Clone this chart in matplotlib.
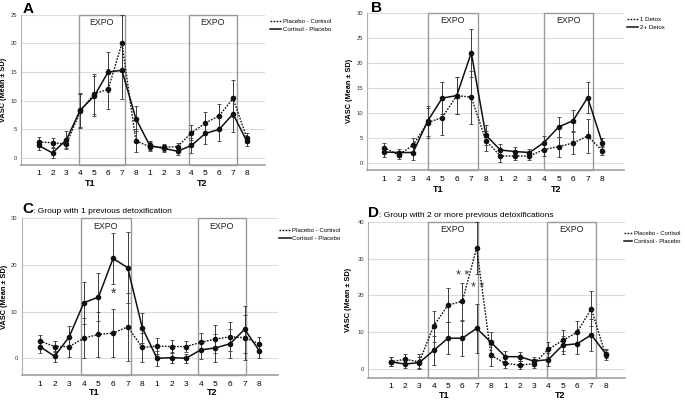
import matplotlib
matplotlib.use("Agg")
import matplotlib.pyplot as plt
import matplotlib.transforms as mtransforms
from matplotlib.lines import Line2D

plt.rcParams['font.family'] = ['Liberation Sans', 'DejaVu Sans']

# ---------------- data ----------------
tick_labels = ['1', '2', '3', '4', '5', '6', '7', '8', '1', '2', '3', '4', '5', '6', '7', '8']
positions = list(range(1, 17))

a_dot = [2.8, 2.7, 2.4, 8.2, 11.2, 12.0, 20.0, 3.0, 2.0, 1.9, 2.0, 4.4, 6.1, 7.4, 10.4, 3.5]
a_dot_sd = [0.8, 0.8, 0.8, 3.0, 3.5, 3.5, 5.0, 2.0, 0.8, 0.6, 0.7, 1.3, 1.9, 2.1, 3.3, 0.8]
a_sol = [2.2, 0.9, 3.2, 8.4, 10.8, 15.0, 15.3, 6.9, 2.2, 1.7, 1.2, 2.2, 4.3, 5.0, 7.7, 2.9]
a_sol_sd = [0.8, 0.8, 1.5, 3.0, 3.5, 3.5, 5.0, 2.1, 0.8, 0.6, 0.7, 1.3, 1.9, 2.1, 3.2, 0.8]

b_dot = [3.0, 1.5, 3.5, 8.0, 9.0, 13.4, 13.1, 4.4, 1.3, 1.3, 1.3, 2.6, 3.2, 3.9, 5.3, 2.4]
b_dot_sd = [1.0, 0.8, 1.5, 3.0, 3.5, 3.7, 5.3, 2.0, 1.2, 0.8, 0.8, 1.3, 2.0, 2.2, 3.4, 0.9]
b_sol = [2.1, 2.0, 2.0, 8.3, 12.9, 13.4, 22.0, 5.5, 2.5, 2.2, 2.0, 4.0, 7.1, 8.4, 13.0, 4.0]
b_sol_sd = [0.9, 0.8, 1.4, 3.0, 3.2, 3.7, 4.8, 2.0, 1.2, 0.9, 0.7, 1.3, 2.0, 2.1, 3.1, 0.9]

c_dot = [3.7, 2.5, 2.5, 4.3, 5.1, 5.4, 6.7, 2.3, 2.6, 2.5, 2.5, 3.4, 4.1, 4.6, 4.4, 3.1]
c_dot_sd = [1.2, 1.1, 2.2, 4.3, 4.9, 5.2, 7.2, 3.1, 1.7, 1.3, 1.1, 1.9, 3.0, 3.1, 4.8, 1.5]
c_sol = [2.5, 0.4, 4.6, 11.9, 13.1, 21.4, 19.4, 6.5, 0.0, 0.1, 0.0, 1.8, 2.2, 3.1, 6.2, 1.6]
c_sol_sd = [1.3, 1.2, 2.3, 4.5, 5.1, 5.4, 7.6, 3.2, 1.6, 1.2, 1.0, 1.9, 3.0, 3.1, 5.0, 1.5]

d_dot = [2.0, 2.7, 2.0, 11.7, 17.4, 18.4, 32.9, 3.8, 1.6, 1.1, 1.5, 5.4, 7.8, 10.0, 16.4, 3.8]
d_dot_sd = [1.2, 1.3, 2.0, 4.2, 4.7, 5.0, 7.0, 2.9, 1.4, 1.0, 1.2, 2.0, 2.8, 3.0, 4.7, 1.4]
d_sol = [2.0, 1.4, 1.8, 5.1, 8.4, 8.4, 11.1, 7.3, 3.4, 3.4, 2.2, 2.6, 6.5, 6.9, 9.3, 4.2]
d_sol_sd = [1.2, 1.0, 1.6, 4.0, 4.4, 4.8, 6.7, 2.8, 1.5, 1.2, 1.0, 1.7, 2.5, 2.8, 4.3, 1.2]

legend_ac = ['Placebo - Cortisol', 'Cortisol - Placebo']
legend_b = ['1 Detox', '2+ Detox']

W, H = 685, 400
fig = plt.figure(figsize=(W / 100, H / 100), dpi=100)


def px_axes(l, r, t, b):
    return fig.add_axes([l / W, 1 - b / H, (r - l) / W, (b - t) / H])


def panel(ax, dot, dot_sd, sol, sol_sd, ylim, yticks, xlim, boxes, labels,
          ylab_x, leg_anchor, tick_pad, t_off, hlen=1.9, lfs=4.4):
    ax.set_xlim(*xlim)
    ax.set_ylim(*ylim)
    ax.set_yticks(yticks)
    ax.set_yticklabels([str(v) for v in yticks], fontsize=4.2, color='#333333')
    ax.set_xticks(positions)
    ax.set_xticklabels(tick_labels, fontsize=6)
    ax.tick_params(axis='both', length=0)
    ax.tick_params(axis='x', pad=tick_pad)
    ax.tick_params(axis='y', pad=3)
    for s in ['top', 'right']:
        ax.spines[s].set_visible(False)
    ax.spines['left'].set_color('#b0b0b0')
    ax.spines['left'].set_linewidth(0.8)
    ax.spines['bottom'].set_color('#a0a0a0')
    ax.spines['bottom'].set_linewidth(1.2)
    ax.grid(axis='y', color='#dcdcdc', linewidth=0.8)
    ax.set_axisbelow(True)
    trans = mtransforms.blended_transform_factory(ax.transData, ax.transAxes)
    for (x0, x1) in boxes:
        ax.add_patch(plt.Rectangle((x0, 0), x1 - x0, 1, transform=trans,
                                   fill=False, edgecolor='#9a9a9a', linewidth=1.0,
                                   clip_on=False, zorder=1))
        ax.text((x0 + x1) / 2, 0.95, 'EXPO', transform=trans, ha='center',
                va='center', fontsize=6.4, color='#222222')
    ax.errorbar(positions, dot, yerr=dot_sd, fmt='none', ecolor='#3a3a3a',
                elinewidth=0.7, capsize=1.6, capthick=0.6, zorder=3)
    ax.errorbar(positions, sol, yerr=sol_sd, fmt='none', ecolor='#3a3a3a',
                elinewidth=0.7, capsize=1.6, capthick=0.6, zorder=3)
    ax.plot(positions, dot, linestyle=(0, (1.2, 1.0)), color='#111111', linewidth=1.0,
            marker='o', markersize=3, zorder=4)
    ax.plot(positions, sol, linestyle='-', color='#111111', linewidth=1.1,
            marker='o', markersize=3, zorder=4)
    ax.set_ylabel('VASC (Mean ± SD)', fontsize=5.3, fontweight='bold')
    ax.yaxis.set_label_coords(ylab_x, 0.5)
    for lab, xp in [('T1', 4.7), ('T2', 12.8)]:
        ax.annotate(lab, xy=(xp, 0), xycoords=trans, xytext=(0, -t_off),
                    textcoords='offset points', ha='center', va='center',
                    fontsize=6.5, fontweight='bold', annotation_clip=False)
    handles = [Line2D([], [], linestyle=(0, (1.2, 1.0)), color='#111111', linewidth=1.0),
               Line2D([], [], linestyle='-', color='#111111', linewidth=1.1)]
    ax.legend(handles, labels, loc='upper left', bbox_to_anchor=leg_anchor,
              frameon=False, fontsize=lfs, handlelength=hlen, handletextpad=0.3,
              labelspacing=0.45, borderaxespad=0, borderpad=0)


axA = px_axes(21, 265, 14.7, 165)
panel(axA, a_dot, a_dot_sd, a_sol, a_sol_sd, (-1.2, 25), [0, 5, 10, 15, 20, 25],
      (-0.27, 17.3), [(3.9, 7.2), (11.85, 15.25)], legend_ac, -0.058,
      (1.02, 0.975), 3.5, 13)

axB = px_axes(367, 624, 12.7, 170)
panel(axB, b_dot, b_dot_sd, b_sol, b_sol_sd, (-1.5, 30), [0, 5, 10, 15, 20, 25, 30],
      (-0.17, 17.5), [(4.0, 7.45), (12.0, 15.4)], legend_b, -0.055,
      (1.01, 0.975), 4.5, 14)

axC = px_axes(21.7, 277.7, 218.3, 375)
panel(axC, c_dot, c_dot_sd, c_sol, c_sol_sd, (-3.6, 30), [0, 10, 20, 30],
      (-0.25, 17.26), [(3.8, 7.2), (11.8, 15.1)], legend_ac, -0.055,
      (1.005, 0.94), 4, 12.5)
axC.text(6, 13.8, '*', ha='center', va='center', fontsize=10, color='#333333')

axD = px_axes(368.3, 625, 221.7, 377.7)
panel(axD, d_dot, d_dot_sd, d_sol, d_sol_sd, (-2.3, 40), [0, 10, 20, 30, 40],
      (-0.56, 17.35), [(3.62, 7.07), (11.9, 15.3)], legend_ac, -0.065,
      (0.998, 0.94), 4, 12.5, hlen=1.3, lfs=4.2)
axD.text(6, 25.3, '* *', ha='center', va='center', fontsize=9, color='#333333')
axD.text(7.1, 22.0, '* *', ha='center', va='center', fontsize=9, color='#333333')

# panel titles
fig.text(23 / W, 1 - 9 / H, 'A', fontsize=11, fontweight='bold', va='center', ha='left')
fig.text(371 / W, 1 - 8 / H, 'B', fontsize=11, fontweight='bold', va='center', ha='left')
tC = fig.text(22 / W, 1 - 213 / H, 'C', fontsize=11, fontweight='bold', va='baseline', ha='left')
tD = fig.text(368 / W, 1 - 217 / H, 'D', fontsize=11, fontweight='bold', va='baseline', ha='left')
fig.canvas.draw()
r = fig.canvas.get_renderer()
for t, s in [(tC, ': Group with 1 previous detoxification'),
             (tD, ': Group with 2 or more previous detoxifications')]:
    bb = t.get_window_extent(r)
    x = bb.x1 / fig.bbox.width
    y = t.get_position()[1]
    fig.text(x, y, s, fontsize=6.0, va='baseline', ha='left')

fig.savefig('out.png', dpi=100)
